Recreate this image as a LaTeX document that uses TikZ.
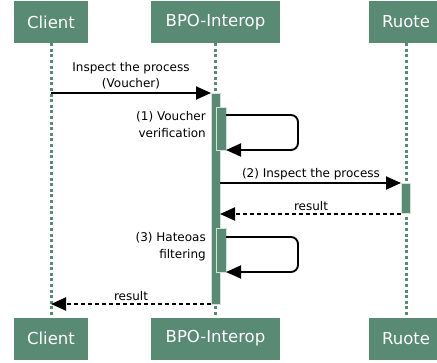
\documentclass[tikz,border=0pt]{standalone}
\usepackage{fontspec}
\setmainfont{DejaVu Sans}
\usetikzlibrary{arrows.meta}
\definecolor{boxgreen}{RGB}{88,138,116}
\definecolor{lifegreen}{RGB}{88,138,116}
\tikzset{
  actor/.style={fill=boxgreen, draw=none, text=white, font=\fontsize{16.5}{18}\selectfont, minimum height=42pt, inner sep=0pt, anchor=center},
  life/.style={draw=lifegreen, line width=3pt, dash pattern=on 3pt off 2.6pt},
  actbar/.style={fill=boxgreen, draw=white!75!boxgreen, line width=0.7pt},
  msg/.style={draw=black, line width=1.9pt, -{Triangle[length=15pt,width=13pt]}},
  ret/.style={msg, dash pattern=on 4.5pt off 2.5pt},
  lbl/.style={font=\fontsize{12}{16.5}\selectfont, text=black, inner sep=0pt, align=center},
}
\begin{document}
\begin{tikzpicture}[x=1pt,y=-1pt]
\useasboundingbox (0,0) rectangle (437,362);
% actors
\node[actor, minimum width=74pt] (ct) at (51,22) {Client};
\node[actor, minimum width=129pt] (bt) at (215.5,22) {BPO-Interop};
\node[actor, minimum width=74pt] (rt) at (406,22) {Ruote};
\node[actor, minimum width=74pt] (cb) at (51,338.5) {Client};
\node[actor, minimum width=129pt] (bb) at (215.5,338.5) {BPO-Interop};
\node[actor, minimum width=74pt] (rb) at (406,338.5) {Ruote};
% lifelines
\draw[life] (ct.south) -- (cb.north);
\draw[life] (bt.south) -- (bb.north);
\draw[life] (rt.south) -- (rb.north);
% activation bars
\draw[actbar] (211,93) rectangle (220,304);
\draw[actbar] (216,107) rectangle (226,150);
\draw[actbar] (216,228) rectangle (226,272);
\draw[actbar] (401,183) rectangle (410,213);
% coordinates
\coordinate (m1s) at (51,93);
\coordinate (m1e) at (211,93);
\coordinate (l1s) at (226,115);
\coordinate (l1e) at (226,150);
\coordinate (m2s) at (220,183);
\coordinate (m2e) at (401,183);
\coordinate (r2s) at (401,214);
\coordinate (r2e) at (220,214);
\coordinate (l3s) at (226,237);
\coordinate (l3e) at (226,272);
\coordinate (r4s) at (211,304);
\coordinate (r4e) at (51,304);
% messages
\draw[msg] (m1s) -- (m1e);
\node[lbl] at (131,75.5) {Inspect the process\\(Voucher)};
\draw[msg, rounded corners=7pt] (l1s) -- (298,115) -- (298,150) -- (l1e);
\node[lbl, align=right, anchor=east] at (206,124.5) {(1) Voucher\\verification};
\draw[msg] (m2s) -- (m2e);
\node[lbl] at (311,174.5) {(2) Inspect the process};
\draw[ret] (r2s) -- (r2e);
\node[lbl] at (311,206) {result};
\draw[msg, rounded corners=7pt] (l3s) -- (298,237) -- (298,272) -- (l3e);
\node[lbl, align=right, anchor=east] at (206,246.5) {(3) Hateoas\\filtering};
\draw[ret] (r4s) -- (r4e);
\node[lbl] at (131,296) {result};
\end{tikzpicture}
\end{document}
